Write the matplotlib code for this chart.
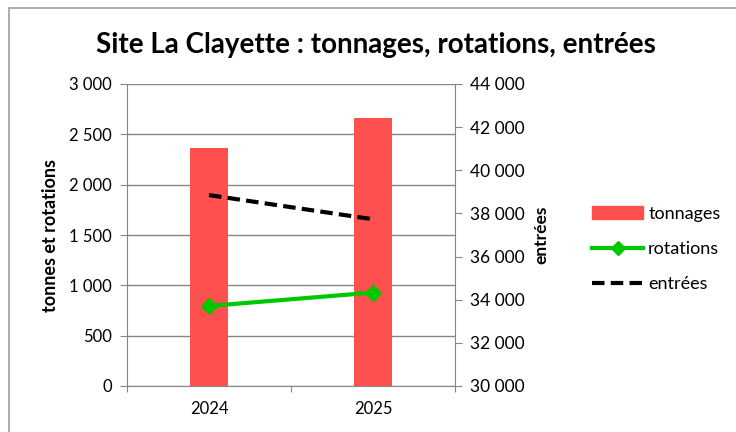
import matplotlib.pyplot as plt
import numpy as np
from matplotlib.patches import Rectangle
from matplotlib.lines import Line2D
from matplotlib.patches import Patch
from matplotlib.ticker import FuncFormatter

plt.rcParams['font.family'] = ['Lato', 'DejaVu Sans']

# données
annees = ["2024", "2025"]
tonnages = [2367, 2662]
rotations = [795, 928]
entrees = [38850, 37730]

gris = "#868686"
rouge = "#FF5050"
vert = "#00C800"

def milliers(v, pos):
    return f"{v:,.0f}".replace(",", " ")

fig = plt.figure(figsize=(7.36, 4.32), dpi=100)
fig.patches.append(Rectangle((9 / 736, -0.1), 1.2, 1 - 8 / 432 + 0.1,
                             transform=fig.transFigure, fill=False,
                             edgecolor="#a0a0a0", linewidth=1.2))

ax = fig.add_axes([127 / 736, 1 - 386 / 432, 328 / 736, 302 / 432])
x = np.arange(len(annees))

ax.bar(x, tonnages, width=0.23, color=rouge, zorder=2)
ax.plot(x, rotations, color=vert, linewidth=3, marker="D", markersize=8, zorder=3)

ax.set_xlim(-0.5, 1.5)
ax.set_ylim(0, 3000)
ax.set_yticks(np.arange(0, 3001, 500))
ax.yaxis.set_major_formatter(FuncFormatter(milliers))
ax.grid(axis="y", color=gris, linewidth=1)
ax.set_axisbelow(True)

ax.set_xticks([-0.5, 0.5, 1.5])
ax.set_xticklabels([])
ax.set_xticks(x, minor=True)
ax.set_xticklabels(annees, minor=True)
ax.tick_params(axis="x", which="major", length=4, color=gris)
ax.tick_params(axis="x", which="minor", length=0, pad=11, labelsize=12)
ax.tick_params(axis="y", length=5, color=gris, labelsize=12, pad=6)

for s in ["top", "right"]:
    ax.spines[s].set_visible(False)
for s in ["left", "bottom"]:
    ax.spines[s].set_color(gris)
ax.set_ylabel("tonnes et rotations", fontsize=13, fontweight="bold", labelpad=7)

ax2 = ax.twinx()
ax2.plot(x, entrees, color="black", linewidth=3, linestyle=(0, (3, 1.5)), zorder=3)
ax2.set_ylim(30000, 44000)
ax2.set_yticks(np.arange(30000, 44001, 2000))
ax2.yaxis.set_major_formatter(FuncFormatter(milliers))
ax2.tick_params(axis="y", length=5, color=gris, labelsize=12.5, pad=6)
for s in ["top", "left", "bottom"]:
    ax2.spines[s].set_visible(False)
ax2.spines["right"].set_color(gris)
ax2.set_ylabel("entrées", fontsize=12.5, fontweight="bold", labelpad=6)

fig.text(376 / 736, 1 - 45 / 432, "Site La Clayette : tonnages, rotations, entrées",
         ha="center", va="center", fontsize=20, fontweight="bold")

handles = [
    Patch(color=rouge),
    Line2D([], [], color=vert, linewidth=3, marker="D", markersize=7),
    Line2D([], [], color="black", linewidth=3, linestyle=(0, (3, 1.5))),
]
fig.legend(handles, ["tonnages", "rotations", "entrées"],
           loc="center left", bbox_to_anchor=(576 / 736, 1 - 249 / 432),
           frameon=False, fontsize=13, handlelength=2.8, labelspacing=1.05,
           handletextpad=0.3)

fig.savefig("out.png", dpi=100)
